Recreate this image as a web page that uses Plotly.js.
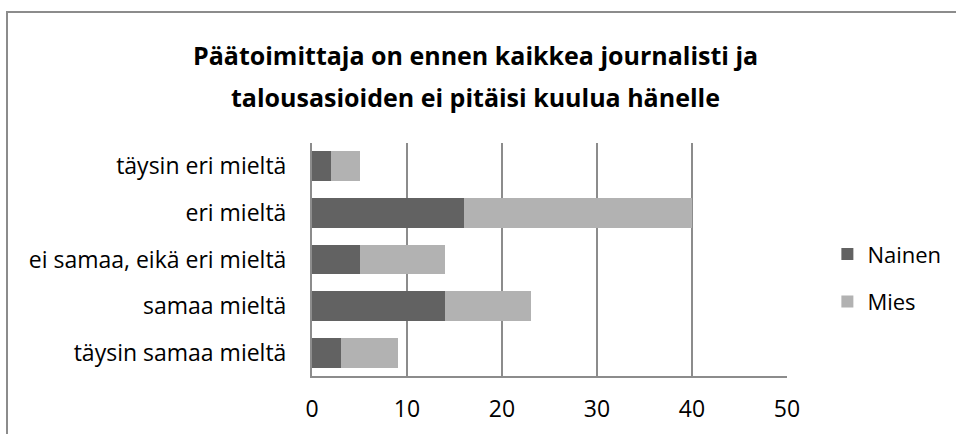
<!DOCTYPE html>
<html><head><meta charset="utf-8">
<script src="https://cdn.plot.ly/plotly-3.0.1.min.js"></script>
<style>
html,body{margin:0;padding:0;background:#fff;}
#wrap{position:relative;width:956px;height:434px;overflow:hidden;}
#frame{position:absolute;left:6px;top:11px;width:1000px;height:500px;border-left:2px solid #8c8c8c;border-top:2px solid #8c8c8c;pointer-events:none;}
#chart{position:absolute;left:0;top:0;width:956px;height:434px;}
</style></head>
<body>
<div id="wrap"><div id="chart"></div><div id="frame"></div></div>
<script>
const categories = ["täysin eri mieltä", "eri mieltä", "ei samaa, eikä eri mieltä", "samaa mieltä", "täysin samaa mieltä"];
const nainen = [2, 16, 5, 14, 3];
const mies = [3, 24, 9, 9, 6];
const seriesNames = ["Nainen", "Mies"];
const titleLines = ["Päätoimittaja on ennen kaikkea journalisti ja", "talousasioiden ei pitäisi kuulua hänelle"];
const xTicks = [0, 10, 20, 30, 40, 50];

const font = "Open Sans, Liberation Sans, sans-serif";
const traces = [
  {type:'bar', orientation:'h', name:seriesNames[0], y:categories, x:nainen, marker:{color:'#626262'}, legendgroup:'a', hoverinfo:'x+y'},
  {type:'bar', orientation:'h', name:seriesNames[1], y:categories, x:mies, marker:{color:'#b2b2b2'}, legendgroup:'b', hoverinfo:'x+y'}
];
const layout = {
  width:956, height:434,
  margin:{l:312, r:169, t:143, b:58, autoexpand:false},
  barmode:'stack', bargap:0.36,
  paper_bgcolor:'#fff', plot_bgcolor:'#fff',
  font:{family:font, size:20, color:'#000'},
  xaxis:{range:[0,50], tickvals:xTicks, showgrid:true, gridcolor:'#8c8c8c', gridwidth:2,
         showline:true, linecolor:'#8c8c8c', linewidth:2, zeroline:false, ticks:'',
         tickfont:{size:23}, ticklabelstandoff:11, fixedrange:true},
  yaxis:{autorange:'reversed', showline:true, linecolor:'#8c8c8c', linewidth:2, ticks:'',
         showgrid:false, tickfont:{size:23}, ticklabelstandoff:19, fixedrange:true},
  legend:{x:1.085, y:0.42, yanchor:'middle', xanchor:'left', traceorder:'grouped', tracegroupgap:16,
          font:{size:22}, itemwidth:30, bgcolor:'rgba(0,0,0,0)'},
  annotations:[
    {xref:'paper', yref:'paper', x:0.5, y:0, text:'<b>'+titleLines[0]+'</b>', showarrow:false,
     xanchor:'center', yanchor:'middle', font:{size:25, family:font}},
    {xref:'paper', yref:'paper', x:0.5, y:0, text:'<b>'+titleLines[1]+'</b>', showarrow:false,
     xanchor:'center', yanchor:'middle', font:{size:25, family:font}}
  ],
  showlegend:true
};
// place title lines in pixel terms relative to the plot area
const plotW = 956-312-169, plotH = 434-143-58;
const titleCx = 475; // page x of title centre
layout.annotations[0].x = (titleCx-312)/plotW; layout.annotations[0].y = 1 + (143-55)/plotH;
layout.annotations[1].x = (titleCx-312)/plotW; layout.annotations[1].y = 1 + (143-97)/plotH;
Plotly.newPlot('chart', traces, layout, {displayModeBar:false, staticPlot:true});
</script>
</body></html>
